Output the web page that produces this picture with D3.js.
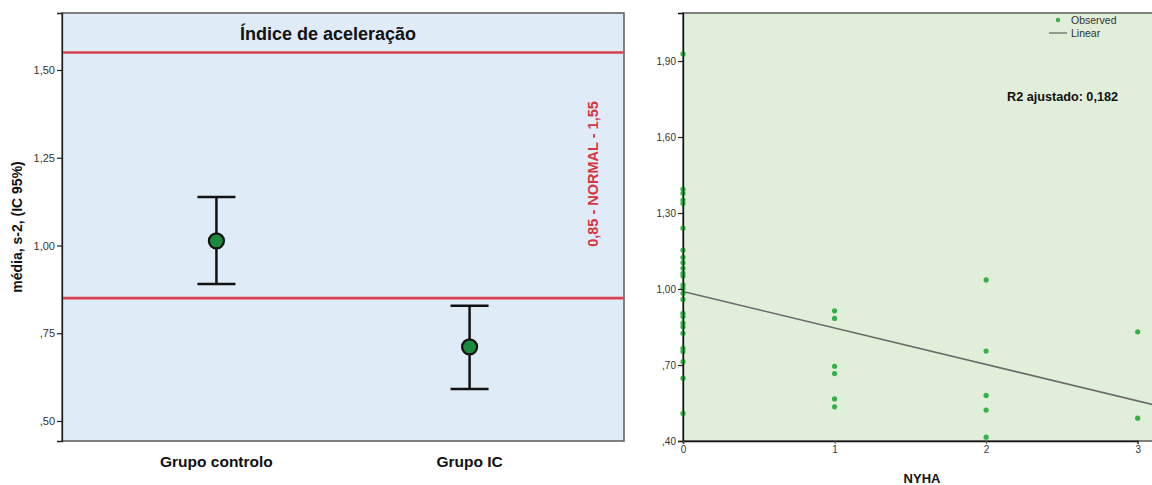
<!DOCTYPE html>
<html>
<head>
<meta charset="utf-8">
<script src="https://cdn.jsdelivr.net/npm/d3@7"></script>
<style>
  html, body { margin: 0; padding: 0; background: #ffffff; }
  svg { display: block; font-family: "Liberation Sans", Arial, sans-serif; }
</style>
</head>
<body>
<svg id="chart" width="1152" height="485"></svg>
<script>
// ---- Left panel: group means with 95% CI ----
const groups = ["Grupo controlo", "Grupo IC"];
const groupMean = [1.013, 0.711];
const groupLow = [0.890, 0.591];
const groupHigh = [1.138, 0.828];
const normalRange = [0.85, 1.55];
const leftTicks = [0.50, 0.75, 1.00, 1.25, 1.50];

// ---- Right panel: scatter against NYHA class with linear fit ----
const nyhaTicks = [0, 1, 2, 3];
const obsX = [
  0, 0, 0, 0, 0, 0, 0, 0, 0, 0, 0, 0, 0, 0, 0, 0, 0, 0, 0, 0, 0, 0, 0, 0, 0, 0,
  1, 1, 1, 1, 1, 1,
  2, 2, 2, 2, 2,
  3, 3
];
const obsY = [
  1.928, 1.394, 1.378, 1.351, 1.338, 1.240, 1.154, 1.125, 1.104, 1.082, 1.062, 1.051, 1.016,
  1.003, 0.983, 0.959, 0.904, 0.891, 0.865, 0.851, 0.825, 0.766, 0.753, 0.713, 0.648, 0.509,
  0.914, 0.884, 0.695, 0.666, 0.566, 0.535,
  1.036, 0.755, 0.580, 0.522, 0.415,
  0.831, 0.490
];
const rightTicks = [0.40, 0.70, 1.00, 1.30, 1.60, 1.90];
const fitIntercept = 0.99;
const fitSlope = -0.144;
const fitLabel = "R2 ajustado: 0,182";

// SPSS-style number format: comma decimal, no leading zero below 1
const fmt = v => {
  const s = v.toFixed(2).replace(".", ",");
  return v < 1 ? s.replace(/^0/, "") : s;
};

const svg = d3.select("#chart");

// ================= LEFT PANEL =================
const L = { x0: 62, x1: 624, y0: 13, y1: 441 };
const yL = d3.scaleLinear().domain([0.443, 1.6624]).range([L.y1, L.y0]);
const xL = d3.scalePoint().domain(groups).range([L.x0, L.x1]).padding(0.61);

const left = svg.append("g");
left.append("rect")
  .attr("x", L.x0).attr("y", L.y0)
  .attr("width", L.x1 - L.x0).attr("height", L.y1 - L.y0)
  .attr("fill", "#e0ebf8")
  .attr("stroke", "#5a5a5a").attr("stroke-width", 1.5);

// y axis
const axL = left.append("g")
  .attr("transform", `translate(${L.x0},0)`)
  .call(d3.axisLeft(yL).tickValues(leftTicks).tickFormat(fmt).tickSize(5).tickPadding(2));
axL.select(".domain").attr("stroke", "#222").attr("stroke-width", 1.3);
axL.selectAll(".tick line").attr("stroke", "#222").attr("stroke-width", 1.2);
axL.selectAll(".tick text")
  .attr("font-family", "Liberation Sans, Arial, sans-serif")
  .attr("font-size", 11).attr("fill", "#333");

// x axis labels
left.append("g").selectAll("text").data(groups).join("text")
  .attr("x", d => xL(d)).attr("y", 467)
  .attr("text-anchor", "middle")
  .attr("font-size", 15.5).attr("font-weight", "bold").attr("fill", "#111")
  .text(d => d);

// y axis title
left.append("text")
  .attr("transform", `translate(22,${(L.y0 + L.y1) / 2}) rotate(-90)`)
  .attr("text-anchor", "middle")
  .attr("font-size", 14).attr("font-weight", "bold").attr("fill", "#111")
  .text("média, s-2, (IC 95%)");

// title
left.append("text")
  .attr("x", 328).attr("y", 40)
  .attr("text-anchor", "middle")
  .attr("font-size", 18).attr("font-weight", "bold").attr("fill", "#111")
  .text("Índice de aceleração");

// normal range reference lines
left.append("g").selectAll("line").data(normalRange).join("line")
  .attr("x1", L.x0 + 1).attr("x2", L.x1 - 1)
  .attr("y1", d => yL(d)).attr("y2", d => yL(d))
  .attr("stroke", "#d9424d").attr("stroke-width", 2.6);

left.append("text")
  .attr("transform", `translate(598,174) rotate(-90)`)
  .attr("text-anchor", "middle")
  .attr("font-size", 14.5).attr("font-weight", "bold").attr("fill", "#d8343f")
  .text(`${fmt(normalRange[0]).replace(/^,/, "0,")} - NORMAL - ${fmt(normalRange[1])}`);

// error bars
const eb = left.append("g").selectAll("g").data(groups).join("g");
eb.append("line")
  .attr("x1", d => xL(d)).attr("x2", d => xL(d))
  .attr("y1", (d, i) => yL(groupHigh[i])).attr("y2", (d, i) => yL(groupLow[i]))
  .attr("stroke", "#111").attr("stroke-width", 2.5);
eb.append("line")
  .attr("x1", d => xL(d) - 19).attr("x2", d => xL(d) + 19)
  .attr("y1", (d, i) => yL(groupHigh[i])).attr("y2", (d, i) => yL(groupHigh[i]))
  .attr("stroke", "#111").attr("stroke-width", 2.5);
eb.append("line")
  .attr("x1", d => xL(d) - 19).attr("x2", d => xL(d) + 19)
  .attr("y1", (d, i) => yL(groupLow[i])).attr("y2", (d, i) => yL(groupLow[i]))
  .attr("stroke", "#111").attr("stroke-width", 2.5);
eb.append("circle")
  .attr("cx", d => xL(d)).attr("cy", (d, i) => yL(groupMean[i]))
  .attr("r", 7.5)
  .attr("fill", "#1c8a3d").attr("stroke", "#111").attr("stroke-width", 2.2);

// ================= RIGHT PANEL =================
const R = { x0: 683, x1: 1162, y0: 13, y1: 441 };
const yR = d3.scaleLinear().domain([0.4, 2.0895]).range([R.y1, R.y0]);
const xR = d3.scaleLinear().domain([0, 3]).range([R.x0, 1137.7]);

const right = svg.append("g");
right.append("rect")
  .attr("x", R.x0).attr("y", R.y0)
  .attr("width", R.x1 - R.x0).attr("height", R.y1 - R.y0)
  .attr("fill", "#e1eed9")
  .attr("stroke", "#5a5a5a").attr("stroke-width", 1.5);

// fitted line
const fitX = [0, xR.invert(R.x1)];
right.append("path")
  .datum(fitX)
  .attr("d", d3.line().x(d => xR(d)).y(d => yR(fitIntercept + fitSlope * d)))
  .attr("stroke", "#6b6b6b").attr("stroke-width", 1.6).attr("fill", "none");

// observed points
right.append("g").selectAll("circle").data(obsY).join("circle")
  .attr("cx", (d, i) => xR(obsX[i])).attr("cy", d => yR(d))
  .attr("r", 2.6).attr("fill", "#36b04b");

// axes
const ayR = right.append("g")
  .attr("transform", `translate(${R.x0},0)`)
  .call(d3.axisLeft(yR).tickValues(rightTicks).tickFormat(fmt).tickSize(5).tickPadding(2));
ayR.select(".domain").attr("stroke", "#111").attr("stroke-width", 1.3);
ayR.selectAll(".tick line").attr("stroke", "#222").attr("stroke-width", 1.2);
ayR.selectAll(".tick text")
  .attr("font-family", "Liberation Sans, Arial, sans-serif")
  .attr("font-size", 10).attr("fill", "#333");

const axR = right.append("g")
  .attr("transform", `translate(0,${R.y1})`)
  .call(d3.axisBottom(xR).tickValues(nyhaTicks).tickFormat(d3.format("d")).tickSize(3).tickPadding(2));
axR.select(".domain").attr("stroke", "#111").attr("stroke-width", 1.6);
axR.selectAll(".tick line").attr("stroke", "#555");
axR.selectAll(".tick text")
  .attr("font-family", "Liberation Sans, Arial, sans-serif")
  .attr("font-size", 10).attr("fill", "#333");

right.append("text")
  .attr("x", 922).attr("y", 483)
  .attr("text-anchor", "middle")
  .attr("font-size", 13).attr("font-weight", "bold").attr("fill", "#111")
  .text("NYHA");

// fit statistic
right.append("text")
  .attr("x", 1007).attr("y", 101)
  .attr("font-size", 12.5).attr("font-weight", "bold").attr("fill", "#111")
  .attr("textLength", 111).attr("lengthAdjust", "spacingAndGlyphs")
  .text(fitLabel);

// legend
const lg = right.append("g").attr("font-size", 10.5).attr("fill", "#333");
lg.append("circle").attr("cx", 1058).attr("cy", 20).attr("r", 2.2).attr("fill", "#36b04b");
lg.append("text").attr("x", 1071).attr("y", 24).text("Observed");
lg.append("line").attr("x1", 1049).attr("x2", 1067).attr("y1", 33).attr("y2", 33)
  .attr("stroke", "#6b6b6b").attr("stroke-width", 1.3);
lg.append("text").attr("x", 1071).attr("y", 37).text("Linear");
</script>
</body>
</html>
